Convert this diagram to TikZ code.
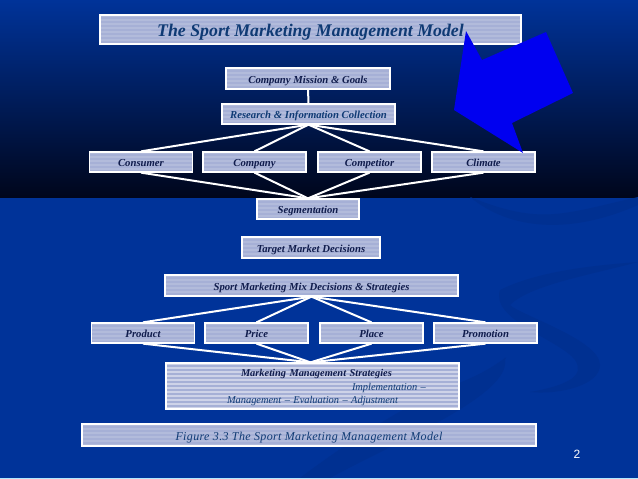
\documentclass[tikz,border=0pt]{standalone}
\usepackage{fontspec}
\setmainfont{Liberation Serif}
\newfontfamily\pagefont{Liberation Sans}
\definecolor{slideblue}{HTML}{003399}
\definecolor{slidemid}{HTML}{00236E}
\definecolor{slidedark}{HTML}{00061C}
\definecolor{swirlblue}{HTML}{003091}
\definecolor{boxfill}{HTML}{A6B0D6}
\definecolor{inknavy}{HTML}{101C4C}
\definecolor{inkblue}{HTML}{0F3A74}
\definecolor{arrowblue}{HTML}{0000F0}
\tikzset{
	stripebox/.style={draw=white,line width=1.3pt,fill=boxfill,inner sep=0pt,
		path picture={
			\foreach \i in {0,...,13}
				\draw[white,opacity=#1,line width=2pt]
					([yshift=-\i*4pt-1pt]path picture bounding box.north west)--([yshift=-\i*4pt-1pt]path picture bounding box.north east);
		}},
	stripebox/.default=0.14,
	smallbox/.style={stripebox,minimum width=103pt,minimum height=20pt,text height=10pt,text depth=1pt,font=\bfseries\itshape\fontsize{10.7}{12}\selectfont,text=inknavy},
	link/.style={draw=white,line width=2pt},
}
\begin{document}
\begin{tikzpicture}[x=1pt,y=-1pt]
	\useasboundingbox (0,0) rectangle (638,479);
	\fill[slideblue] (0,0) rectangle (638,479);
	\shade[top color=slideblue,middle color=slidemid,bottom color=slidedark] (0,0) rectangle (638,197);
	\fill[swirlblue] (500,290) .. controls (540,270) and (600,265) .. (638,262) .. controls (590,275) and (530,285) .. (510,305) .. controls (520,315) and (600,340) .. (600,365) .. controls (600,385) and (560,395) .. (530,392) .. controls (570,385) and (585,375) .. (575,360) .. controls (560,340) and (490,320) .. (500,290);
	\fill[swirlblue] (440,390) .. controls (500,370) and (510,350) .. (505,360) .. controls (510,395) and (400,440) .. (330,478) -- (300,478) .. controls (350,440) and (400,410) .. (440,390);
	\fill[swirlblue] (470,197) .. controls (540,225) and (560,215) .. (638,197) -- (638,205) .. controls (570,235) and (510,230) .. (470,197);
	\draw[color=blue!30!cyan!30!white,line width=1pt] (0,478.5)--(638,478.5);

	\node[stripebox,minimum width=421pt,minimum height=29pt,text height=16pt,text depth=2pt,font=\bfseries\itshape\fontsize{17.8}{20}\selectfont,text=inkblue] (title) at (310.5,29.5) {The Sport Marketing Management Model};
	\node[smallbox,minimum width=164pt,minimum height=21pt] (mission) at (308,78.5) {Company Mission \& Goals};
	\node[smallbox,minimum width=173pt,text=inkblue] (research) at (308.5,114) {Research \& Information Collection};
	\node[smallbox] (consumer) at (141,162) {Consumer};
	\node[smallbox] (company) at (254.5,162) {Company};
	\node[smallbox] (competitor) at (369.5,162) {Competitor};
	\node[smallbox] (climate) at (483.5,162) {Climate};
	\node[smallbox,minimum width=102pt] (segmentation) at (308,209) {Segmentation};
	\node[smallbox,minimum width=138pt,minimum height=21pt] (target) at (311,247.5) {Target Market Decisions};
	\node[smallbox,minimum width=293pt,minimum height=21pt] (mix) at (311.5,285.5) {Sport Marketing Mix Decisions \& Strategies};
	\node[smallbox] (product) at (143,333) {Product};
	\node[smallbox] (price) at (256.5,333) {Price};
	\node[smallbox] (place) at (371.5,333) {Place};
	\node[smallbox] (promotion) at (485.5,333) {Promotion};
	\node[stripebox=0.45,minimum width=293pt,minimum height=46pt,text width=293pt,align=left,font=\itshape\fontsize{10.4}{13.5}\selectfont,text=inkblue] (strategies) at (312.5,386) {\rule{0pt}{11pt}\hspace*{75pt}{\bfseries\color{inknavy}Marketing Management Strategies}\\\hspace*{186pt}Implementation --\\\hspace*{61pt}Management -- Evaluation -- Adjustment};
	\node[stripebox,minimum width=454pt,minimum height=22pt,text height=11pt,text depth=1pt,font=\itshape\fontsize{12}{14}\selectfont,text=inkblue] (figure) at (309,435) {\addfontfeature{LetterSpace=3}Figure 3.3 The Sport Marketing Management Model};
	\node[font=\pagefont\fontsize{12}{14}\selectfont,text=white] (pagenum) at (577,454) {2};

	\draw[link] (mission)--(research);
	\foreach \n in {consumer,company,competitor,climate}{
		\draw[link] (research.south)--(\n.north);
		\draw[link] (\n.south)--(segmentation.north);
	}
	\foreach \n in {product,price,place,promotion}{
		\draw[link] (mix.south)--(\n.north);
		\draw[link] (\n.south)--([xshift=-2pt]strategies.north);
	}

	\fill[arrowblue] (466,31)--(482,60)--(546,32)--(573,93)--(512,123)--(523,153)--(454,110)--cycle;
\end{tikzpicture}
\end{document}
